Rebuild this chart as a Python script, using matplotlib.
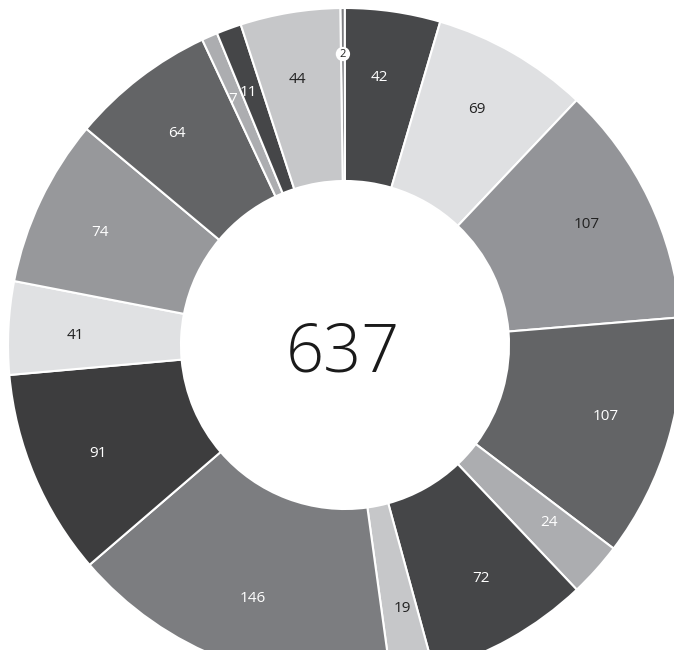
import numpy as np
import matplotlib.pyplot as plt

values = [2, 42, 69, 107, 107, 24, 72, 19, 146, 91, 41, 74, 64, 7, 11, 44]
colors = ['#7b7c7f', '#47484a', '#dfe0e2', '#939498', '#636466', '#acadb0',
          '#454648', '#c6c7c9', '#7c7d80', '#3d3d3e', '#e0e1e3', '#97989b',
          '#636466', '#acadb0', '#454648', '#c6c7c9']
text_colors = ['#222222', 'white', '#222222', '#222222', 'white', 'white',
               'white', '#222222', 'white', 'white', '#222222', 'white',
               'white', 'white', 'white', '#222222']
total_label = '637'

plt.rcParams['font.family'] = ['Open Sans', 'DejaVu Sans']

fig = plt.figure(figsize=(6.74, 6.5), dpi=100)
ax = fig.add_axes([0, 0, 1, 1])

# ring geometry in pixels (y measured from bottom)
cx, cy = 345, 650 - 345
R, r = 337, 164

wedges, texts = ax.pie(values, colors=colors, startangle=90.8, counterclock=False,
                       radius=R, center=(cx, cy),
                       wedgeprops=dict(width=R - r, edgecolor='white', linewidth=1.5))

for w, v, tc in zip(wedges, values, text_colors):
    if v == 2:
        ang = np.deg2rad((w.theta1 + w.theta2) / 2)
        rr = 291
        x, y = cx + rr * np.cos(ang), cy + rr * np.sin(ang)
        ax.text(x, y, str(v), ha='center', va='center', fontsize=8, color='#222222',
                bbox=dict(boxstyle='circle,pad=0.15', fc='white', ec='none'))
    else:
        ang = np.deg2rad((w.theta1 + w.theta2) / 2 + 0.8)
        rr = 270
        x, y = cx + rr * np.cos(ang), cy + rr * np.sin(ang)
        ax.text(x, y, str(v), ha='center', va='center', fontsize=11, color=tc)

ax.text(cx - 2, cy - 27, total_label, ha='center', va='baseline', fontsize=48,
        color='#1a1a1a', fontweight='light')

ax.set_xlim(0, 674)
ax.set_ylim(0, 650)
ax.set_aspect('equal')
ax.axis('off')

fig.savefig('out.png', dpi=100)
